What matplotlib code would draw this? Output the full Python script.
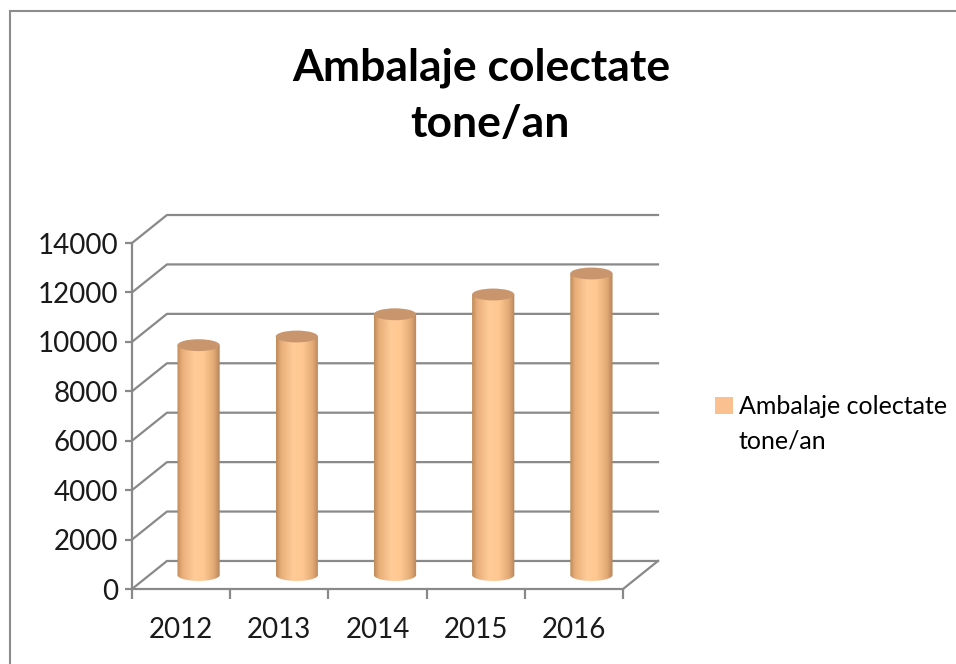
import numpy as np
import matplotlib
matplotlib.use('Agg')
import matplotlib.pyplot as plt
from matplotlib.patches import Ellipse, Polygon, Patch, Rectangle
from matplotlib.colors import LinearSegmentedColormap

plt.rcParams['font.family'] = ['Lato', 'DejaVu Sans']

# data
years = ['2012', '2013', '2014', '2015', '2016']
tonnes = [9300, 9650, 10550, 11350, 12200]
y_ticks = [0, 2000, 4000, 6000, 8000, 10000, 12000, 14000]
title_lines = ['Ambalaje colectate', 'tone/an']
legend_lines = ['Ambalaje colectate', 'tone/an']

# fake 3d look: back wall is shifted right/up by (dx, dy)
dx = 0.356      # category units
dy = 1134       # value units
bar_w = 0.43
cap_h = 480
grid_col = '#898989'
top_col = '#c8956c'

cyl_cmap = LinearSegmentedColormap.from_list(
    'cyl', [(0, '#c08a58'), (0.12, '#e8ae7a'), (0.4, '#ffcb97'),
            (0.62, '#ffc892'), (0.86, '#e2a974'), (1, '#b5845a')])
grad = np.linspace(0, 1, 256).reshape(1, -1)

fig = plt.figure(figsize=(9.56, 6.64), dpi=100)
ax = fig.add_axes([132 / 956, 75 / 664, 526 / 956, 374 / 664])

# back wall gridlines + left wall diagonals
for v in y_ticks:
    ax.plot([-0.5, -0.5 + dx, 4.5 + dx], [v, v + dy, v + dy],
            color=grid_col, lw=1.6, zorder=1, clip_on=False)
# right edge of the floor
ax.plot([4.5, 4.5 + dx], [0, dy], color=grid_col, lw=1.6, zorder=1, clip_on=False)

# cylinders
theta = np.linspace(np.pi, 2 * np.pi, 60)
for i, v in enumerate(tonnes):
    xc = i + dx / 2
    y0 = dy / 2
    y1 = v + dy / 2
    bx = xc + bar_w / 2 * np.cos(theta)
    by = y0 + cap_h / 2 * np.sin(theta)
    verts = [(xc - bar_w / 2, y1)] + list(zip(bx, by)) + [(xc + bar_w / 2, y1)]
    body = Polygon(verts, closed=True, facecolor='none', edgecolor='none')
    ax.add_patch(body)
    im = ax.imshow(grad, cmap=cyl_cmap, aspect='auto', interpolation='bilinear',
                   extent=[xc - bar_w / 2, xc + bar_w / 2, y0 - cap_h / 2, y1], zorder=2)
    im.set_clip_path(body)
    ax.add_patch(Ellipse((xc, y1), bar_w, cap_h, facecolor=top_col,
                         edgecolor='none', zorder=3))

ax.set_xlim(-0.5, 4.5 + dx)
ax.set_ylim(0, y_ticks[-1] + dy)

for s in ['top', 'right']:
    ax.spines[s].set_visible(False)
for s in ['left', 'bottom']:
    ax.spines[s].set_color(grid_col)
    ax.spines[s].set_linewidth(1.6)
ax.spines['left'].set_bounds(0, y_ticks[-1])
ax.spines['bottom'].set_bounds(-0.5, 4.5)

ax.set_yticks(y_ticks)
ax.set_yticklabels([str(t) for t in y_ticks])
ax.set_xticks(np.arange(len(years) + 1) - 0.5)
ax.set_xticklabels([])
ax.set_xticks(np.arange(len(years)), minor=True)
ax.set_xticklabels(years, minor=True)
ax.tick_params(axis='y', length=5, width=1.6, color=grid_col, labelsize=20,
               labelcolor='#1a1a1a', pad=5)
ax.tick_params(axis='x', which='major', length=7, width=1.6, color=grid_col)
ax.tick_params(axis='x', which='minor', length=0, labelsize=20,
               labelcolor='#1a1a1a', pad=20)
ax.patch.set_visible(False)

# title
fig.text(481 / 956, 1 - 80 / 664, title_lines[0], ha='center', va='baseline',
         fontsize=32, fontweight='bold', color='black')
fig.text(490 / 956, 1 - 137 / 664, title_lines[1], ha='center', va='baseline',
         fontsize=32, fontweight='bold', color='black')

# legend (second line gets an empty handle so the swatch sits on line one)
handles = [Patch(facecolor='#fac08f', edgecolor='none'),
           Patch(facecolor='none', edgecolor='none')]
fig.legend(handles, legend_lines, loc='upper left',
           bbox_to_anchor=(715 / 956, 1 - 395 / 664), frameon=False,
           fontsize=18, handlelength=0.7, handleheight=0.7,
           handletextpad=0.25, labelspacing=0.45, borderpad=0, borderaxespad=0)

# chart area border
fig.add_artist(Rectangle((10 / 956, -0.1), 1.2, 1.1 - 11 / 664,
                         transform=fig.transFigure, fill=False,
                         edgecolor='#8c8c8c', lw=1.5))

fig.savefig('out.png', dpi=100)
